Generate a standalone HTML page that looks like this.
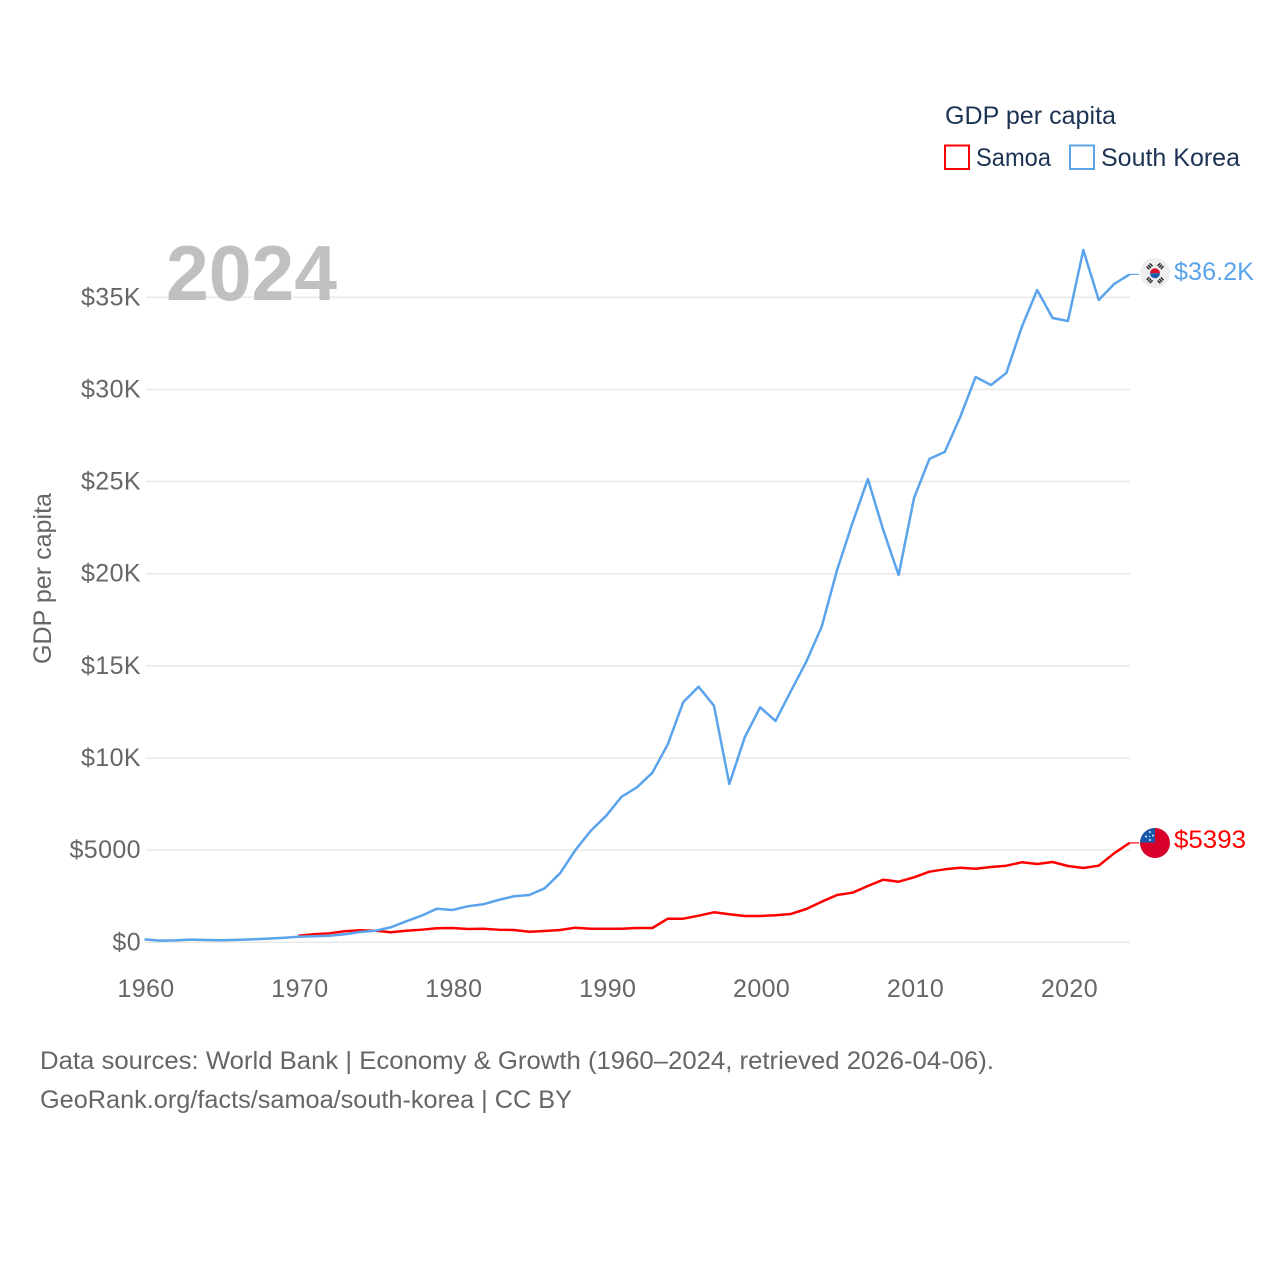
<!DOCTYPE html>
<html lang="en">
<head>
<meta charset="utf-8">
<title>GDP per capita: Samoa and South Korea</title>
<style>
html,body{margin:0;padding:0;background:#fff;}
svg{display:block;font-family:"Liberation Sans",Arial,sans-serif;}
</style>
</head>
<body>
<svg id="chart" xmlns="http://www.w3.org/2000/svg" width="1280" height="1280" viewBox="0 0 1280 1280">
  <rect x="0" y="0" width="1280" height="1280" fill="#ffffff"/>
  <g id="grid"></g>
  <text x="166" y="300" font-size="78" font-weight="700" fill="#bdbdbd" fill-opacity="0.95" textLength="171" lengthAdjust="spacingAndGlyphs">2024</text>
  <g id="yticks"></g>
  <g id="xticks"></g>
  <text transform="translate(51 578.5) rotate(-90)" text-anchor="middle" font-size="25" fill="#666666" textLength="171" lengthAdjust="spacingAndGlyphs">GDP per capita</text>
  <g id="series"></g>

  <g>
    <text x="945" y="124" font-size="25" fill="#1c3353" textLength="171" lengthAdjust="spacingAndGlyphs">GDP per capita</text>
    <g>
      <rect x="945" y="145.500" width="24" height="23.500" fill="none" stroke="#ff0000" stroke-width="2"/>
      <text x="976" y="166" font-size="25" fill="#1c3353" textLength="75" lengthAdjust="spacingAndGlyphs">Samoa</text>
    </g>
    <g>
      <rect x="1070" y="145.500" width="24" height="23.500" fill="none" stroke="#5ba4ec" stroke-width="2"/>
      <text x="1101" y="166" font-size="25" fill="#1c3353" textLength="139" lengthAdjust="spacingAndGlyphs">South Korea</text>
    </g>
  </g>

  <defs>
    <clipPath id="flag-clip-ws"><circle cx="1155" cy="843" r="15"/></clipPath>
  </defs>
  <g>
    <circle cx="1155" cy="273" r="15" fill="#eeeeee"/>
    <path d="M1150 273.300 A5 5 0 0 1 1160 273.300 Z" fill="#d8142a"/>
    <path d="M1150 273.300 A5 5 0 0 0 1160 273.300 Z" fill="#1b5fae"/>
    <g stroke="#2a2a2a" stroke-width="4" stroke-dasharray="1.500 0.700">
      <line x1="1147.500" y1="268.500" x2="1152" y2="264"/>
      <line x1="1158.500" y1="264" x2="1163" y2="268.500"/>
      <line x1="1147.500" y1="278" x2="1152" y2="282.500"/>
      <line x1="1158.500" y1="282.500" x2="1163" y2="278"/>
    </g>
  </g>
  <text x="1174" y="280" font-size="25" fill="#5ba4ec" textLength="80" lengthAdjust="spacingAndGlyphs">$36.2K</text>

  <g>
    <circle cx="1155" cy="843" r="15" fill="#d8002a"/>
    <rect x="1140" y="827" width="15" height="15.500" fill="#1557ab" clip-path="url(#flag-clip-ws)"/>
    <g fill="#ffffff" fill-opacity="0.9">
      <circle cx="1150" cy="832" r="1"/>
      <circle cx="1146" cy="836.500" r="1"/>
      <circle cx="1153" cy="835.500" r="1"/>
      <circle cx="1150" cy="840" r="1"/>
      <circle cx="1149.500" cy="836.500" r="0.600"/>
    </g>
  </g>
  <text x="1174" y="848" font-size="25" fill="#ff0000" textLength="72" lengthAdjust="spacingAndGlyphs">$5393</text>

  <text x="40" y="1069" font-size="25" fill="#666666" textLength="954" lengthAdjust="spacingAndGlyphs">Data sources: World Bank | Economy &amp; Growth (1960–2024, retrieved 2026-04-06).</text>
  <text x="40" y="1108" font-size="25" fill="#666666" textLength="532" lengthAdjust="spacingAndGlyphs">GeoRank.org/facts/samoa/south-korea | CC BY</text>
</svg>

<script>
const startYear = 1960;
const endYear = 2024;
const samoaStartYear = 1970;
const yTickValues = [0, 5000, 10000, 15000, 20000, 25000, 30000, 35000];
const yTickLabels = ["$0", "$5000", "$10K", "$15K", "$20K", "$25K", "$30K", "$35K"];
const xTickYears = [1960, 1970, 1980, 1990, 2000, 2010, 2020];
const southKoreaValues = [158, 93, 106, 146, 123, 108, 133, 161, 198, 243, 300, 325, 358, 434, 559, 629, 814, 1139, 1443, 1823, 1753, 1953, 2062, 2295, 2496, 2566, 2930, 3744, 5008, 6055, 6869, 7900, 8410, 9202, 10743, 13022, 13869, 12838, 8589, 11123, 12751, 12008, 13635, 15225, 17124, 20200, 22751, 25137, 22371, 19929, 24107, 26229, 26609, 28502, 30673, 30239, 30890, 33386, 35393, 33874, 33711, 37564, 34851, 35719, 36240];
const samoaValues = [358, 434, 488, 597, 651, 629, 543, 629, 684, 760, 776, 722, 738, 684, 667, 575, 613, 667, 792, 738, 738, 738, 776, 776, 1281, 1281, 1443, 1628, 1519, 1427, 1427, 1465, 1536, 1807, 2203, 2566, 2691, 3055, 3397, 3288, 3527, 3831, 3961, 4048, 3993, 4086, 4156, 4341, 4249, 4357, 4140, 4031, 4156, 4829, 5393];

const NS = "http://www.w3.org/2000/svg";
const plotLeft = 146;
const plotRight = 1131;
const gridRight = 1130;
const lineOffset = -1.5;
const yZero = 942.3;
const yPerUnit = 0.01843;
const xScale = function (year) {
  return plotLeft + (year - startYear) * (plotRight - plotLeft) / (endYear - startYear);
};
const yScale = function (value) {
  return yZero - value * yPerUnit;
};

const gridLayer = document.getElementById("grid");
const yLayer = document.getElementById("yticks");
const xLayer = document.getElementById("xticks");
const seriesLayer = document.getElementById("series");

yTickValues.forEach(function (value, i) {
  const line = document.createElementNS(NS, "line");
  
  
  line.setAttribute("x1", plotLeft);
  line.setAttribute("x2", gridRight);
  line.setAttribute("y1", yScale(value));
  line.setAttribute("y2", yScale(value));
  line.setAttribute("stroke", "#e8e8e8");
  line.setAttribute("stroke-width", "1.500");
  gridLayer.appendChild(line);

  const label = document.createElementNS(NS, "text");
  
  
  label.setAttribute("x", 141);
  label.setAttribute("y", yScale(value) + 8);
  label.setAttribute("text-anchor", "end");
  label.setAttribute("font-size", "25");
  label.setAttribute("letter-spacing", "0.4");
  label.setAttribute("fill", "#666666");
  label.textContent = yTickLabels[i];
  yLayer.appendChild(label);
});

xTickYears.forEach(function (year) {
  const label = document.createElementNS(NS, "text");
  
  
  label.setAttribute("x", xScale(year));
  label.setAttribute("y", 997);
  label.setAttribute("text-anchor", "middle");
  label.setAttribute("font-size", "25");
  label.setAttribute("letter-spacing", "0.4");
  label.setAttribute("fill", "#666666");
  label.textContent = String(year);
  xLayer.appendChild(label);
});

function seriesPoints(values, firstYear) {
  return values.map(function (value, i) {
    return (xScale(firstYear + i) + lineOffset).toFixed(2) + "," + yScale(value).toFixed(2);
  });
}

const samoaLine = document.createElementNS(NS, "polyline");


samoaLine.setAttribute("points", seriesPoints(samoaValues, samoaStartYear).join(" "));
samoaLine.setAttribute("fill", "none");
samoaLine.setAttribute("stroke", "#ff0000");
samoaLine.setAttribute("stroke-width", "2.500");
samoaLine.setAttribute("stroke-linejoin", "round");
seriesLayer.appendChild(samoaLine);

const koreaLine = document.createElementNS(NS, "polyline");


koreaLine.setAttribute("points", seriesPoints(southKoreaValues, startYear).join(" "));
koreaLine.setAttribute("fill", "none");
koreaLine.setAttribute("stroke", "#5ba4ec");
koreaLine.setAttribute("stroke-width", "2.500");
koreaLine.setAttribute("stroke-linejoin", "round");
seriesLayer.appendChild(koreaLine);

const samoaLastValue = samoaValues[samoaValues.length - 1];
const koreaLastValue = southKoreaValues[southKoreaValues.length - 1];

const samoaConnector = document.createElementNS(NS, "line");


samoaConnector.setAttribute("x1", xScale(endYear) + lineOffset);
samoaConnector.setAttribute("x2", xScale(endYear) + 8);
samoaConnector.setAttribute("y1", yScale(samoaLastValue));
samoaConnector.setAttribute("y2", yScale(samoaLastValue));
samoaConnector.setAttribute("stroke", "#ff0000");
samoaConnector.setAttribute("stroke-width", "1.200");
seriesLayer.appendChild(samoaConnector);

const koreaConnector = document.createElementNS(NS, "line");


koreaConnector.setAttribute("x1", xScale(endYear) + lineOffset);
koreaConnector.setAttribute("x2", xScale(endYear) + 8);
koreaConnector.setAttribute("y1", yScale(koreaLastValue));
koreaConnector.setAttribute("y2", yScale(koreaLastValue));
koreaConnector.setAttribute("stroke", "#5ba4ec");
koreaConnector.setAttribute("stroke-width", "1.200");
seriesLayer.appendChild(koreaConnector);
</script>
</body>
</html>
